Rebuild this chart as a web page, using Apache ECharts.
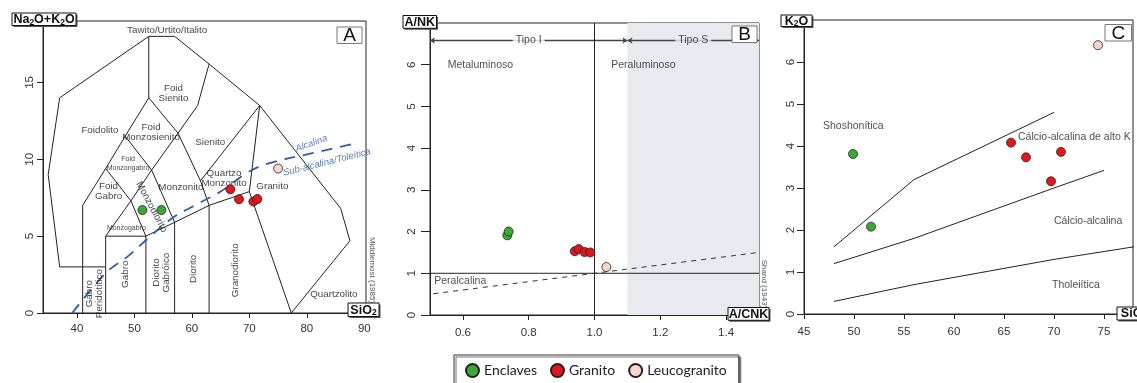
<!DOCTYPE html>
<html><head><meta charset="utf-8">
<script src="https://cdn.jsdelivr.net/npm/echarts@6/dist/echarts.min.js"></script>
<style>html,body{margin:0;padding:0;background:#fff}#c{width:1137px;height:383px}</style>
</head><body><div id="c"></div>
<script>
// ================= DATA =================
const groups = ['Enclaves', 'Granito', 'Leucogranito'];

// Panel A: TAS (Middlemost) SiO2 vs Na2O+K2O
const tasEnclaves = [[51.4, 6.7], [54.7, 6.7]];
const tasGranito = [[66.7, 8.05], [68.2, 7.4], [70.7, 7.25], [71.4, 7.42]];
const tasLeuco = [[75.0, 9.4]];
const tasXTicks = [40, 50, 60, 70, 80, 90];
const tasYTicks = [0, 5, 10, 15];
const tasFieldLines = [
  [[37,3],[35,9],[37,14],[52.5,18],[57,18],[63,16.2],[71.8,13.5],[85.9,6.8],[87.5,4.7],[77.3,0]],
  [[37,3],[45,3]],
  [[41,0],[41,7],[45,9.4],[48.4,11.5],[52.5,14],[52.5,18]],
  [[45,0],[45,5],[52,5],[52,0]],
  [[45,5],[49.4,7.3],[45,9.4]],
  [[52,5],[49.4,7.3],[53,9.3],[57,5.9]],
  [[48.4,11.5],[53,9.3],[57.6,11.7],[52.5,14]],
  [[52,5],[57,5.9],[63,7],[70,7.9],[71.8,13.5]],
  [[57,0],[57,5.9]],
  [[63,0],[63,7]],
  [[70,7.9],[77.3,0]],
  [[57.6,11.7],[61,13.5],[63,16.2]],
  [[57.6,11.7],[61.5,8.6],[63,7]],
  [[61.5,8.6],[71.8,13.5]]
];
const tasAlkLine = [[39.2,0],[45,2.6],[48.9,3.7],[52.5,4.9],[56.7,6.2],[61,7.1],[65,7.9],[69.5,9.1],[73,9.7],[81,10.4],[88,11.0]];
const tasLabels = [
  ['Tawito/Urtito/Italito', 55.7, 18.42],
  ['Foid\nSienito', 56.8, 14.3],
  ['Foidolito', 44.0, 11.86],
  ['Foid\nMonzosienito', 52.9, 11.77],
  ['Sienito', 63.2, 11.14],
  ['Foid\nMonzongabro', 48.9, 9.75],
  ['Foid\nGabro', 45.5, 7.9],
  ['Monzodiorito', 53.0, 6.9],
  ['Monzogabro', 48.6, 5.5],
  ['Monzonito', 58.1, 8.2],
  ['Quartzo\nMonzonito', 65.6, 8.79],
  ['Granito', 74.0, 8.25],
  ['Granodiorito', 67.5, 2.78],
  ['Diorito', 60.2, 2.87],
  ['Diorito\nGabróico', 54.7, 2.63],
  ['Gabro', 48.5, 2.52],
  ['Gabro\nPeridotítico', 43.0, 1.26],
  ['Quartzolito', 84.7, 1.22]
];
const tasSeriesLabels = [['Alcalina', 80.8, 11.03], ['Sub-alcalina/Toleítica', 83.5, 9.8]];

// Panel B: Shand A/CNK vs A/NK
const shandEnclaves = [[0.735, 1.91], [0.739, 2.0]];
const shandGranito = [[0.94, 1.53], [0.952, 1.58], [0.97, 1.51], [0.987, 1.50]];
const shandLeuco = [[1.036, 1.15]];
const shandXTicks = [0.6, 0.8, 1.0, 1.2, 1.4];
const shandYTicks = [0, 1, 2, 3, 4, 5, 6];
const shandSolidLines = [[[1.0,0],[1.0,7]], [[0.5,1],[1.5,1]]];
const shandDashedLine = [[0.51,0.51],[1.5,1.5]];
const shandTypeSRange = [1.1, 1.5];
const shandArrows = [['Tipo I', 0.5, 1.1, 6.58], ['Tipo S', 1.1, 1.5, 6.58]];
const shandLabels = [['Metaluminoso', 0.554, 6.0], ['Peraluminoso', 1.051, 6.0], ['Peralcalina', 0.513, 0.82]];

// Panel C: Peccerillo & Taylor SiO2 vs K2O
const ptEnclaves = [[49.9, 3.81], [51.7, 2.08]];
const ptGranito = [[65.7, 4.08], [67.2, 3.73], [70.7, 3.86], [69.7, 3.16]];
const ptLeuco = [[74.4, 6.4]];
const ptXTicks = [45, 50, 55, 60, 65, 70, 75];
const ptYTicks = [0, 1, 2, 3, 4, 5, 6];
const ptLines = [
  [[48,1.6],[56,3.2],[70,4.8]],
  [[48,1.2],[56,1.8],[63,2.4],[70,3.0],[75,3.42]],
  [[48,0.3],[56,0.7],[63,1.0],[70,1.3],[78,1.6]]
];
const ptLabels = [['Shoshonítica', 46.9, 4.48], ['Cálcio-alcalina de alto K', 66.4, 4.22], ['Cálcio-alcalina', 70.0, 2.22], ['Tholeiítica', 69.8, 0.68]];

// ================= STYLE / LAYOUT =================
const FONT = '"Liberation Sans", Arial, sans-serif';
const NARROW = '"Liberation Sans Narrow", "Arial Narrow", "Liberation Sans", sans-serif';
const colors = {Enclaves: '#3aaa35', Granito: '#e2171b', Leucogranito: '#f7d5c9'};
const G = [
  {left: 43, top: 21, width: 323, height: 292},
  {left: 430, top: 23, width: 329, height: 292},
  {left: 804, top: 20, width: 329, height: 294}
];
const tasLabelStyle = {
  'Foid\nMonzongabro': {fontSize: 7, lineHeight: 9},
  'Monzogabro': {fontSize: 7},
  'Monzodiorito': {rotate: -62},
  'Granodiorito': {rotate: 90}, 'Diorito': {rotate: 90}, 'Diorito\nGabróico': {rotate: 90},
  'Gabro': {rotate: 90}, 'Gabro\nPeridotítico': {rotate: 90}
};

const chart = echarts.init(document.getElementById('c'), null, {renderer: 'canvas', width: 1137, height: 383});

function xAx(gi, min, max, ticks, fmt, margin) {
  return {type: 'value', gridIndex: gi, min, max,
    axisLine: {show: true, onZero: false, lineStyle: {color: '#222', width: 1}},
    axisTick: {show: true, length: 5, customValues: ticks, lineStyle: {color: '#222'}},
    axisLabel: {customValues: ticks, formatter: fmt, fontSize: 11.5, color: '#333', margin, fontFamily: FONT},
    splitLine: {show: false}};
}
function yAx(gi, min, max, ticks, tickLen, margin) {
  return {type: 'value', gridIndex: gi, min, max,
    axisLine: {show: true, onZero: false, lineStyle: {color: '#222', width: 1}},
    axisTick: {show: true, length: tickLen, customValues: ticks, lineStyle: {color: '#222'}},
    axisLabel: {customValues: ticks, rotate: 90, fontSize: 11.5, color: '#333', margin, fontFamily: FONT},
    splitLine: {show: false}};
}
function scat(name, data, i) {
  return {type: 'scatter', name, xAxisIndex: i, yAxisIndex: i, data, symbolSize: 9, z: 6,
    itemStyle: {color: colors[name], borderColor: '#222', borderWidth: 0.8, opacity: 1}};
}
function poly(data, i, style) {
  return Object.assign({type: 'line', xAxisIndex: i, yAxisIndex: i, data, symbol: 'none', silent: true, z: 3,
    lineStyle: {color: '#222', width: 1}}, style || {});
}
function texts(list, i, base, styles) {
  return {type: 'scatter', xAxisIndex: i, yAxisIndex: i, silent: true, symbolSize: 1, z: 4,
    itemStyle: {color: 'rgba(0,0,0,0)'},
    label: Object.assign({show: true, position: 'inside', formatter: p => p.name, color: '#111'}, base),
    data: list.map(([t, x, y]) => ({name: t, value: [x, y], label: Object.assign({}, (styles && styles[t]) || {})}))};
}

const series = [];
// Panel A
tasFieldLines.forEach(p => series.push(poly(p, 0)));
series.push(poly(tasAlkLine, 0, {smooth: 0.35, lineStyle: {color: '#2e5ea8', width: 1.8, type: [11, 8]}}));
series.push(texts(tasLabels, 0, {fontSize: 9.8, fontFamily: NARROW, lineHeight: 10}, tasLabelStyle));
series.push(texts(tasSeriesLabels, 0, {fontSize: 9.5, fontFamily: NARROW, color: '#2e5ea8', fontStyle: 'italic'},
  {'Alcalina': {rotate: 20}, 'Sub-alcalina/Toleítica': {rotate: 14}}));
series.push(scat('Enclaves', tasEnclaves, 0), scat('Granito', tasGranito, 0), scat('Leucogranito', tasLeuco, 0));
// Panel B
series.push({type: 'line', xAxisIndex: 1, yAxisIndex: 1, data: [], silent: true, z: 1,
  markArea: {silent: true, itemStyle: {color: '#e8eaef'},
    data: [[{xAxis: shandTypeSRange[0], yAxis: 0}, {xAxis: shandTypeSRange[1], yAxis: 7}]]}});
shandSolidLines.forEach(p => series.push(poly(p, 1)));
series.push(poly(shandDashedLine, 1, {lineStyle: {color: '#333', width: 1, type: [5, 5]}}));
series.push({type: 'lines', coordinateSystem: 'cartesian2d', xAxisIndex: 1, yAxisIndex: 1, silent: true, z: 3,
  symbol: ['arrow', 'arrow'], symbolSize: 5,
  lineStyle: {color: '#444', width: 1.3, opacity: 1},
  data: shandArrows.map(a => ({coords: [[a[1], a[3]], [a[2], a[3]]]}))});
series.push(texts(shandArrows.map(a => [a[0], (a[1] + a[2]) / 2, a[3]]), 1,
  {fontSize: 10.5, fontFamily: FONT, padding: [1, 3], color: '#222'},
  {'Tipo I': {backgroundColor: '#fff'}, 'Tipo S': {backgroundColor: '#e8eaef'}}));
series.push(texts(shandLabels, 1, {fontSize: 10.5, fontFamily: FONT, align: 'left', color: '#222'}));
series.push(scat('Enclaves', shandEnclaves, 1), scat('Granito', shandGranito, 1), scat('Leucogranito', shandLeuco, 1));
// Panel C
ptLines.forEach(p => series.push(poly(p, 2)));
series.push(texts(ptLabels, 2, {fontSize: 10.5, fontFamily: FONT, align: 'left', color: '#222'}));
series.push(scat('Enclaves', ptEnclaves, 2), scat('Granito', ptGranito, 2), scat('Leucogranito', ptLeuco, 2));

// axis-name boxes and panel letters
const graphic = [];
function nameBox(x, y, w, h, text, rich) {
  graphic.push({type: 'rect', shape: {x: x + 1.5, y: y + 1.5, width: w, height: h}, style: {fill: '#555'}, z: 100});
  graphic.push({type: 'rect', shape: {x, y, width: w, height: h}, style: {fill: '#fff', stroke: '#111', lineWidth: 1}, z: 101});
  graphic.push({type: 'text', x: x + w / 2, y: y + h / 2 + 0.5, z: 102,
    style: {text, rich, fill: '#111', fontSize: 12.5, fontWeight: 'bold', fontFamily: FONT,
      align: 'center', verticalAlign: 'middle', textAlign: 'center', textVerticalAlign: 'middle'}});
}
const subRich = {b: {fontSize: 12.5, fontWeight: 'bold', fontFamily: FONT, fill: '#111', color: '#111'},
  s: {fontSize: 8.5, fontWeight: 'bold', fontFamily: FONT, fill: '#111', color: '#111', verticalAlign: 'bottom', padding: [5, 0, 0, 0]}};
nameBox(12, 13, 64, 12.5, '{b|Na}{s|2}{b|O+K}{s|2}{b|O}', subRich);
nameBox(348, 303, 31, 13.5, '{b|SiO}{s|2}', subRich);
nameBox(403, 15.5, 33.5, 12.8, 'A/NK');
nameBox(728, 307.5, 41, 12.8, 'A/CNK');
nameBox(781, 15, 31, 11.5, '{b|K}{s|2}{b|O}', subRich);
nameBox(1117, 307, 34, 13, '{b|SiO}{s|2}', subRich);
function letter(x, y, w, h, t) {
  graphic.push({type: 'rect', shape: {x, y, width: w, height: h}, style: {fill: '#fff', stroke: '#777', lineWidth: 1}, z: 100});
  graphic.push({type: 'text', x: x + w / 2, y: y + h / 2 + 1, z: 101,
    style: {text: t, fill: '#111', fontSize: 19, fontFamily: FONT, align: 'center', verticalAlign: 'middle', textAlign: 'center', textVerticalAlign: 'middle'}});
}
letter(337, 27, 25, 16.5, 'A');
letter(732, 26, 25, 16.5, 'B');
letter(1105, 24.5, 26.5, 16.5, 'C');
function vtext(x, y, t) {
  graphic.push({type: 'text', x, y, rotation: -Math.PI / 2, z: 100,
    style: {text: t, fill: '#555', fontSize: 8, fontFamily: NARROW, align: 'center', verticalAlign: 'middle', textAlign: 'center', textVerticalAlign: 'middle'}});
}
vtext(372.5, 270, 'Middlemost (1985)');
vtext(764, 284, 'Shand (1943)');

chart.setOption({
  animation: false,
  backgroundColor: '#fff',
  grid: G.map(g => Object.assign({show: true, borderColor: '#222', borderWidth: 1, backgroundColor: 'transparent', containLabel: false, outerBoundsMode: 'none'}, g)),
  xAxis: [
    xAx(0, 34.1, 90.3, tasXTicks, v => String(v), 10),
    xAx(1, 0.5, 1.5, shandXTicks, v => v.toFixed(1), 12),
    xAx(2, 45, 77.9, ptXTicks, v => String(v), 12)
  ],
  yAxis: [
    yAx(0, 0, 19, tasYTicks, 6, 7),
    yAx(1, 0, 7, shandYTicks, 9, 12),
    yAx(2, 0, 7, ptYTicks, 7, 7)
  ],
  legend: {data: groups, left: 454, top: 355, orient: 'horizontal', backgroundColor: '#fff',
    borderColor: '#333', borderWidth: 1, padding: [8, 12, 9, 11], itemGap: 13, itemWidth: 13, itemHeight: 13,
    icon: 'circle', shadowColor: '#777', shadowOffsetX: 2, shadowOffsetY: 2, shadowBlur: 0,
    textStyle: {fontSize: 14, fontFamily: 'Lato, "Open Sans", sans-serif', color: '#222'}},
  series,
  graphic
});
</script></body></html>
